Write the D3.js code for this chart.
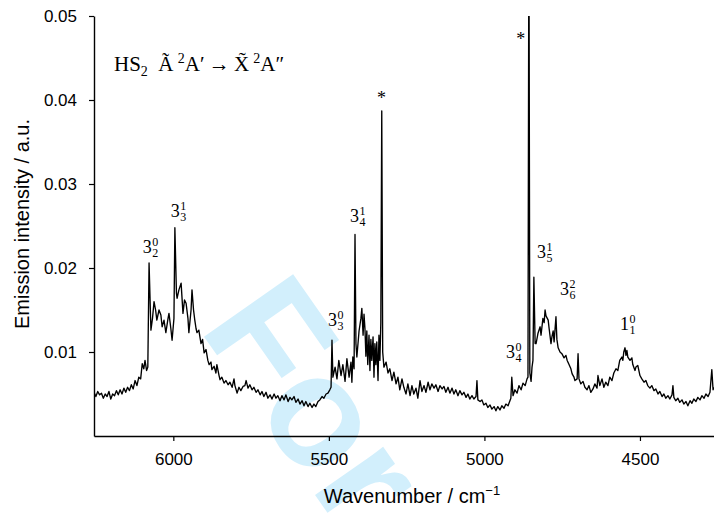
<!DOCTYPE html>
<html><head><meta charset="utf-8">
<script src="https://cdn.jsdelivr.net/npm/d3@7"></script>
<style>body{margin:0;background:#fff}svg{display:block}</style>
</head><body>
<svg id="c" width="714" height="514"></svg>
<script>
// Emission spectrum: [wavenumber (cm^-1), intensity (a.u.)]
const spectrum = [
[6255,.0052],[6249,.0047],[6243,.0053],[6237,.0049],[6231,.0051],[6225,.0045],[6219,.0050],[6213,.0047],[6207,.0053],[6201,.0044],
[6195,.0050],[6189,.0048],[6183,.0054],[6177,.0049],[6171,.0055],[6165,.0050],[6159,.0057],[6153,.0052],[6147,.0058],[6141,.0054],
[6135,.0061],[6129,.0056],[6123,.0066],[6117,.0060],[6111,.0070],[6105,.0068],[6100,.0086],[6095,.0080],[6091,.0090],[6086,.0078],
[6082,.0082],[6078,.0206],[6072,.0126],[6067,.0140],[6062,.0160],[6057,.0150],[6053,.0138],[6046,.0150],[6040,.0144],[6036,.0130],
[6030,.0138],[6024,.0123],[6017,.0140],[6014,.0146],[6008,.0128],[6004,.0114],[5998,.0140],[5995,.0248],[5990,.0170],[5988,.0164],
[5982,.0174],[5975,.0182],[5969,.0146],[5964,.0162],[5959,.0158],[5953,.0140],[5950,.0123],[5943,.0150],[5940,.0174],[5935,.0150],
[5931,.0138],[5927,.0128],[5924,.0123],[5918,.0126],[5911,.0110],[5906,.0115],[5901,.0099],[5895,.0103],[5889,.0090],[5885,.0085],
[5879,.0088],[5876,.0079],[5869,.0083],[5863,.0075],[5860,.0085],[5853,.0072],[5850,.0067],[5844,.0070],[5837,.0063],[5831,.0066],
[5824,.0061],[5818,.0064],[5811,.0058],[5805,.0068],[5802,.0060],[5795,.0051],[5789,.0058],[5783,.0054],[5776,.0059],[5770,.0060],
[5766,.0066],[5760,.0057],[5754,.0061],[5747,.0055],[5741,.0058],[5734,.0052],[5728,.0055],[5721,.0049],[5715,.0053],[5709,.0047],
[5702,.0052],[5696,.0045],[5689,.0049],[5683,.0044],[5676,.0050],[5670,.0045],[5664,.0048],[5657,.0042],[5651,.0048],[5644,.0043],
[5638,.0049],[5631,.0041],[5625,.0046],[5619,.0043],[5612,.0047],[5606,.0040],[5599,.0044],[5593,.0038],[5586,.0042],[5580,.0036],
[5574,.0041],[5567,.0035],[5561,.0039],[5554,.0034],[5548,.0038],[5542,.0035],[5535,.0041],[5529,.0043],[5522,.0047],[5516,.0045],
[5509,.0050],[5503,.0051],[5497,.0055],[5493,.0058],[5490,.0114],[5487,.0070],[5480,.0082],[5474,.0068],[5468,.0090],[5461,.0072],
[5455,.0085],[5448,.0065],[5442,.0092],[5435,.0070],[5429,.0088],[5426,.0064],[5423,.0094],[5419,.0080],[5416,.0240],[5413,.0110],
[5410,.0094],[5403,.0125],[5397,.0140],[5394,.0152],[5390,.0120],[5387,.0145],[5384,.0128],[5381,.0095],[5378,.0125],[5375,.0085],
[5371,.0120],[5368,.0078],[5365,.0115],[5362,.0090],[5358,.0118],[5355,.0070],[5352,.0110],[5349,.0085],[5346,.0112],[5342,.0066],
[5339,.0120],[5336,.0090],[5333,.0135],[5330,.0387],[5327,.0100],[5323,.0082],[5316,.0088],[5310,.0075],[5304,.0080],[5297,.0066],
[5291,.0076],[5284,.0062],[5278,.0070],[5272,.0055],[5265,.0068],[5259,.0058],[5252,.0050],[5246,.0062],[5239,.0048],[5233,.0060],
[5227,.0050],[5220,.0057],[5214,.0045],[5207,.0066],[5201,.0053],[5194,.0060],[5188,.0052],[5181,.0064],[5175,.0055],[5169,.0062],
[5162,.0057],[5156,.0061],[5149,.0053],[5143,.0060],[5136,.0056],[5130,.0059],[5124,.0052],[5117,.0058],[5111,.0051],[5104,.0057],
[5098,.0050],[5092,.0055],[5085,.0048],[5079,.0054],[5072,.0049],[5066,.0052],[5059,.0046],[5053,.0050],[5047,.0044],[5040,.0048],
[5034,.0044],[5027,.0047],[5024,.0066],[5021,.0043],[5014,.0041],[5008,.0043],[5002,.0037],[4995,.0039],[4989,.0034],[4982,.0037],
[4976,.0032],[4969,.0035],[4963,.0030],[4957,.0035],[4950,.0031],[4944,.0036],[4937,.0033],[4931,.0038],[4924,.0036],[4918,.0042],
[4915,.0045],[4912,.0070],[4908,.0048],[4902,.0055],[4895,.0051],[4889,.0060],[4882,.0055],[4876,.0063],[4869,.0060],[4863,.0068],
[4860,.0070],[4857,.0620],[4854,.0075],[4850,.0065],[4847,.0082],[4844,.0090],[4841,.0189],[4837,.0110],[4834,.0110],[4828,.0122],
[4821,.0130],[4818,.0120],[4812,.0140],[4808,.0135],[4805,.0150],[4802,.0143],[4795,.0138],[4792,.0128],[4786,.0110],[4783,.0118],
[4779,.0125],[4776,.0112],[4770,.0142],[4767,.0115],[4763,.0105],[4757,.0100],[4751,.0098],[4744,.0093],[4738,.0096],[4734,.0090],
[4728,.0085],[4722,.0080],[4718,.0074],[4712,.0070],[4709,.0066],[4702,.0068],[4699,.0098],[4696,.0068],[4690,.0062],[4683,.0065],
[4677,.0058],[4670,.0055],[4664,.0060],[4658,.0052],[4651,.0056],[4645,.0062],[4638,.0057],[4635,.0072],[4629,.0060],[4622,.0068],
[4616,.0058],[4610,.0064],[4603,.0060],[4597,.0070],[4590,.0066],[4584,.0075],[4577,.0080],[4571,.0078],[4565,.0090],[4558,.0094],
[4555,.0090],[4552,.0100],[4548,.0105],[4545,.0096],[4542,.0102],[4539,.0094],[4532,.0090],[4526,.0093],[4523,.0085],[4516,.0078],
[4513,.0082],[4507,.0084],[4500,.0072],[4494,.0068],[4487,.0064],[4481,.0066],[4475,.0060],[4468,.0057],[4462,.0060],[4455,.0054],
[4449,.0056],[4442,.0050],[4436,.0053],[4429,.0047],[4423,.0050],[4417,.0045],[4410,.0048],[4404,.0044],[4397,.0049],[4394,.0060],
[4391,.0046],[4385,.0042],[4378,.0045],[4372,.0040],[4365,.0043],[4359,.0038],[4352,.0041],[4346,.0036],[4339,.0042],[4333,.0039],
[4327,.0044],[4320,.0041],[4314,.0046],[4307,.0043],[4301,.0048],[4294,.0045],[4288,.0050],[4281,.0047],[4275,.0052],[4269,.0079],
[4265,.0055],[4262,.0058]
];
const xTicks = [6000, 5500, 5000, 4500];
const yTicks = [0.01, 0.02, 0.03, 0.04, 0.05];
// Band assignments: base digit, superscript, subscript, anchor [wavenumber, intensity]
const bandBase = ["3","3","3","3","3","3","3","1"];
const bandSup  = ["0","1","0","1","0","1","2","0"];
const bandSub  = ["2","3","3","4","4","5","6","1"];
const bandAt   = [[6098,.0218],[6008,.0261],[5503,.0131],[5432,.0255],[4931,.0093],[4831,.0212],[4757,.0168],[4564,.0126]];
const starAt   = [[5331,.0395],[4883,.0466]];

const svg = d3.select("#c");
const x = d3.scaleLinear().domain([6255, 4262]).range([94, 714]);
const y = d3.scaleLinear().domain([0, 0.05]).range([436, 16]);

// watermark
svg.append("text")
  .attr("transform", "translate(198,328) rotate(55)")
  .attr("font-family", "Liberation Sans, Arial, sans-serif")
  .attr("font-weight", "bold").attr("font-size", 158)
  .attr("fill", "#d2effc").text("For");

svg.append("defs").append("clipPath").attr("id", "clip")
  .append("rect").attr("x", 94).attr("y", 16).attr("width", 620).attr("height", 420);

svg.append("path").datum(spectrum)
  .attr("clip-path", "url(#clip)")
  .attr("fill", "none").attr("stroke", "#000").attr("stroke-width", 1.35)
  .attr("stroke-linejoin", "round")
  .attr("d", d3.line().x(d => x(d[0])).y(d => y(d[1])));

// axes
const gx = svg.append("g").attr("transform", "translate(0,436)")
  .call(d3.axisBottom(x).tickValues(xTicks).tickSize(5).tickSizeOuter(0).tickPadding(12).tickFormat(d3.format("d")));
const gy = svg.append("g").attr("transform", "translate(94,0)")
  .call(d3.axisLeft(y).tickValues(yTicks).tickSize(5).tickSizeOuter(0).tickPadding(12).tickFormat(d3.format(".2f")));
[gx, gy].forEach(g => {
  g.select(".domain").attr("stroke", "#000").attr("stroke-width", 1.4);
  g.selectAll(".tick line").attr("stroke", "#000").attr("stroke-width", 1.2);
  g.selectAll(".tick text").attr("font-family", "Liberation Sans, Arial, sans-serif").attr("font-size", 17).attr("fill", "#000");
});

// axis titles
svg.append("text").attr("x", 412).attr("y", 503).attr("text-anchor", "middle")
  .attr("font-family", "Liberation Sans, Arial, sans-serif").attr("font-size", 20)
  .call(t => {
    t.append("tspan").text("Wavenumber / cm");
    t.append("tspan").attr("font-size", 13).attr("dy", -8).text("\u22121");
  });
svg.append("text").attr("transform", "translate(29,224) rotate(-90)").attr("text-anchor", "middle")
  .attr("font-family", "Liberation Sans, Arial, sans-serif").attr("font-size", 20)
  .text("Emission intensity / a.u.");

// title annotation
const serif = "Liberation Serif, Times New Roman, serif";
svg.append("text").attr("x", 114).attr("y", 71).attr("font-family", serif).attr("font-size", 21)
  .call(t => {
    t.append("tspan").text("HS");
    t.append("tspan").attr("font-size", 14).attr("dy", 5).text("2");
    t.append("tspan").attr("dy", -5).text("\u00A0\u00A0\u00C3\u2009");
    t.append("tspan").attr("font-size", 14).attr("dy", -8).text("2");
    t.append("tspan").attr("dy", 8).text("A\u2032\u2009\u2192\u2009X\u0303\u2009");
    t.append("tspan").attr("font-size", 14).attr("dy", -8).text("2");
    t.append("tspan").attr("dy", 8).text("A\u2033");
  });

// band labels
bandBase.forEach((b, i) => {
  const g = svg.append("g").attr("transform", `translate(${x(bandAt[i][0])},${y(bandAt[i][1])})`)
    .attr("font-family", serif);
  g.append("text").attr("font-size", 18).text(b);
  g.append("text").attr("x", 9.5).attr("y", -7).attr("font-size", 12).text(bandSup[i]);
  g.append("text").attr("x", 9.5).attr("y", 4).attr("font-size", 12).text(bandSub[i]);
});
starAt.forEach(s => {
  svg.append("text").attr("x", x(s[0])).attr("y", y(s[1])).attr("text-anchor", "middle")
    .attr("font-family", serif).attr("font-size", 18).text("*");
});
</script>
</body></html>
